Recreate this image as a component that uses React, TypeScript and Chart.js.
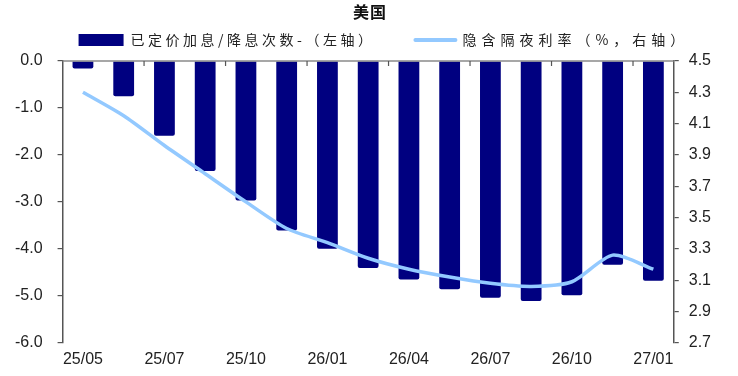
import React, { useEffect, useRef } from 'react';
import { Chart, registerables } from 'chart.js';

Chart.register(...registerables);

// ---------- data ----------
const categories = ['25/05', '25/06', '25/07', '25/09', '25/10', '25/12', '26/01', '26/03', '26/04', '26/06', '26/07', '26/09', '26/10', '26/12', '27/01'];
const tickLabels = ['25/05', '25/07', '25/10', '26/01', '26/04', '26/07', '26/10', '27/01'];
const pricedMoves = [-0.16, -0.75, -1.59, -2.34, -2.97, -3.61, -4.0, -4.41, -4.65, -4.86, -5.04, -5.11, -4.99, -4.34, -4.68];
const impliedRate = [4.3, 4.15, 3.96, 3.78, 3.6, 3.43, 3.34, 3.24, 3.17, 3.12, 3.08, 3.06, 3.09, 3.26, 3.17];
const leftMin = -6, leftMax = 0, leftStep = 1;
const rightMin = 2.7, rightMax = 4.5, rightStep = 0.2;
const titleText = '美国';
const barLabel = '已定价加息/降息次数-（左轴）';
const lineLabel = '隐含隔夜利率（%，右轴）';

// ---------- styles ----------
const NAVY = '#000080';
const LIGHT = '#93C9FF';
const TEXT = '#222222';
const AXIS = '#555555';
const NUM_FONT = '"Liberation Sans", Arial, sans-serif';
const CJK_FONT = '"Noto Sans CJK SC", "Noto Sans", sans-serif';

const headerPlugin = {
  id: 'header',
  afterDraw(chart: any) {
    const { ctx, chartArea, width } = chart;
    const ds = chart.data.datasets;
    const barDs = ds.find((d: any) => d.type === 'bar');
    const lineDs = ds.find((d: any) => d.type === 'line');
    ctx.save();
    // title
    ctx.font = 'bold 16px ' + CJK_FONT;
    (ctx as any).letterSpacing = '1px';
    ctx.textAlign = 'center';
    ctx.textBaseline = 'middle';
    ctx.fillStyle = '#111';
    ctx.fillText(titleText, width / 2 + 1, 12);
    // legend
    ctx.font = '14px ' + CJK_FONT;
    (ctx as any).letterSpacing = '3.5px';
    ctx.textAlign = 'left';
    const y = chartArea.top - 21;
    let x = chartArea.left + 16;
    ctx.fillStyle = NAVY;
    ctx.fillRect(x, y - 6, 45, 12);
    x += 45 + 7;
    ctx.fillStyle = TEXT;
    ctx.fillText(barDs.label, x, y);
    x += ctx.measureText(barDs.label).width + 38;
    ctx.strokeStyle = LIGHT;
    ctx.lineWidth = 4;
    ctx.lineCap = 'round';
    ctx.beginPath();
    ctx.moveTo(x + 2, y);
    ctx.lineTo(x + 42, y);
    ctx.stroke();
    x += 44 + 5;
    (ctx as any).letterSpacing = '5px';
    ctx.fillStyle = TEXT;
    ctx.fillText(lineDs.label, x, y);
    ctx.restore();
  },
};

const topAxisPlugin = {
  id: 'topAxis',
  afterDatasetsDraw(chart: any) {
    const { ctx, chartArea } = chart;
    const xs = chart.scales.x;
    ctx.save();
    ctx.strokeStyle = '#8a8a8a';
    ctx.lineWidth = 1.5;
    ctx.beginPath();
    ctx.moveTo(chartArea.left, chartArea.top);
    ctx.lineTo(chartArea.right, chartArea.top);
    ctx.stroke();
    ctx.strokeStyle = AXIS;
    ctx.lineWidth = 1.2;
    for (let i = 2; i < categories.length; i += 2) {
      const px = (xs.getPixelForValue(i - 1) + xs.getPixelForValue(i)) / 2;
      ctx.beginPath();
      ctx.moveTo(px, chartArea.top);
      ctx.lineTo(px, chartArea.top + 5);
      ctx.stroke();
    }
    ctx.restore();
  },
};

export default function App() {
  const ref = useRef<HTMLCanvasElement | null>(null);

  useEffect(() => {
    if (!ref.current) return;
    const chart = new Chart(ref.current, {
      data: {
        labels: categories,
        datasets: [
          {
            type: 'line' as const,
            label: lineLabel,
            data: impliedRate,
            yAxisID: 'y1',
            borderColor: LIGHT,
            backgroundColor: LIGHT,
            borderWidth: 3.5,
            pointRadius: 0,
            tension: 0.25,
            order: 0,
          },
          {
            type: 'bar' as const,
            label: barLabel,
            data: pricedMoves,
            yAxisID: 'y',
            backgroundColor: NAVY,
            borderWidth: 0,
            borderRadius: 2,
            categoryPercentage: 1,
            barPercentage: 0.51,
            order: 1,
          },
        ],
      },
      options: {
        responsive: false,
        animation: false,
        layout: { padding: { left: 0, right: 17, top: 61, bottom: 0 } },
        plugins: {
          legend: { display: false },
          tooltip: { enabled: false },
          title: { display: false },
        },
        scales: {
          x: {
            type: 'category',
            position: 'bottom',
            grid: { display: false, drawTicks: false },
            border: { display: false },
            ticks: {
              autoSkip: false,
              maxRotation: 0,
              padding: 7,
              color: TEXT,
              font: { family: NUM_FONT, size: 16 },
              callback: (_v: any, i: number) => (tickLabels.includes(categories[i]) ? categories[i] : null),
            },
          },
          y: {
            position: 'left',
            min: leftMin,
            max: leftMax,
            grid: { drawOnChartArea: false, drawTicks: true, tickLength: 5, color: AXIS, lineWidth: 1.2 },
            border: { display: true, color: AXIS, width: 1.5 },
            ticks: {
              stepSize: leftStep,
              padding: 15,
              color: TEXT,
              font: { family: NUM_FONT, size: 16 },
              callback: (v: any) => Number(v).toFixed(1),
            },
          },
          y1: {
            position: 'right',
            min: rightMin,
            max: rightMax,
            grid: { drawOnChartArea: false, drawTicks: true, tickLength: 5, color: AXIS, lineWidth: 1.2 },
            border: { display: true, color: AXIS, width: 1.5 },
            ticks: {
              stepSize: rightStep,
              padding: 10,
              color: TEXT,
              font: { family: NUM_FONT, size: 16 },
              callback: (v: any) => Number(v).toFixed(1),
            },
          },
        },
      },
      plugins: [topAxisPlugin, headerPlugin],
    } as any);
    return () => chart.destroy();
  }, []);

  return (
    <div style={{ position: 'absolute', left: 0, top: 0, width: 738, height: 376, background: '#fff' }}>
      <canvas ref={ref} width={738} height={376} style={{ display: 'block' }} />
    </div>
  );
}
